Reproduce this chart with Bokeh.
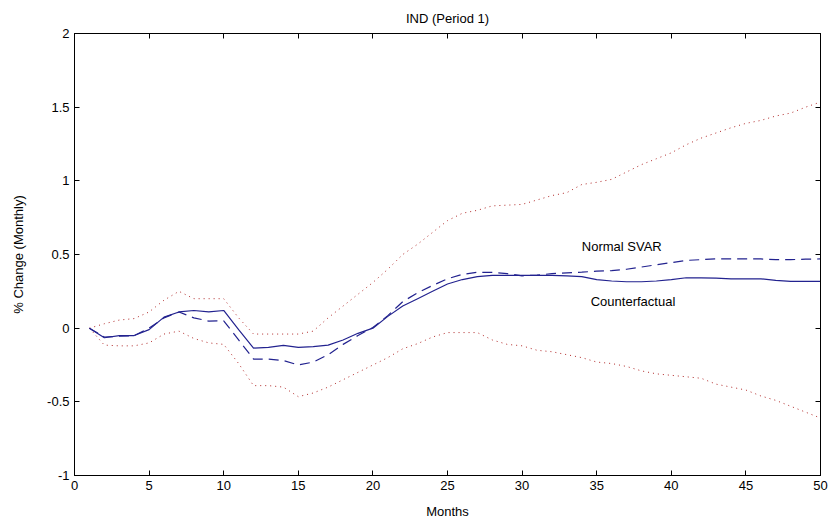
from bokeh.plotting import figure
from bokeh.models import ColumnDataSource, LinearAxis, FixedTicker, Label, Range1d
from bokeh.embed import file_html
from bokeh.resources import INLINE

months = list(range(1, 51))

counterfactual = [0, -0.065, -0.05, -0.05, -0.01, 0.075, 0.11, 0.12, 0.11, 0.12,
                  -0.01, -0.135, -0.13, -0.117, -0.13, -0.125, -0.115, -0.08, -0.035, 0.0,
                  0.08, 0.15, 0.2, 0.25, 0.3, 0.33, 0.35, 0.358, 0.358, 0.358,
                  0.358, 0.358, 0.355, 0.35, 0.33, 0.32, 0.315, 0.315, 0.32, 0.33,
                  0.342, 0.342, 0.34, 0.335, 0.335, 0.335, 0.325, 0.318, 0.317, 0.317]

normal_svar = [0, -0.06, -0.055, -0.05, 0.0, 0.07, 0.11, 0.07, 0.048, 0.05,
               -0.08, -0.21, -0.21, -0.22, -0.25, -0.23, -0.18, -0.11, -0.05, 0.005,
               0.085, 0.18, 0.24, 0.29, 0.335, 0.365, 0.38, 0.378, 0.37, 0.355,
               0.36, 0.37, 0.375, 0.38, 0.387, 0.39, 0.40, 0.415, 0.43, 0.445,
               0.46, 0.465, 0.47, 0.47, 0.47, 0.47, 0.465, 0.465, 0.468, 0.47]

upper_band = [0, 0.03, 0.055, 0.065, 0.11, 0.19, 0.25, 0.2, 0.2, 0.2,
              0.07, -0.04, -0.04, -0.04, -0.04, -0.02, 0.07, 0.15, 0.23, 0.31,
              0.4, 0.5, 0.57, 0.65, 0.73, 0.78, 0.80, 0.83, 0.835, 0.84,
              0.87, 0.9, 0.92, 0.975, 0.99, 1.01, 1.06, 1.11, 1.15, 1.19,
              1.245, 1.29, 1.325, 1.36, 1.39, 1.41, 1.44, 1.46, 1.50, 1.535]

lower_band = [0, -0.115, -0.12, -0.12, -0.1, -0.04, -0.02, -0.07, -0.1, -0.11,
              -0.24, -0.39, -0.39, -0.40, -0.465, -0.44, -0.4, -0.35, -0.3, -0.25,
              -0.2, -0.14, -0.105, -0.06, -0.03, -0.03, -0.03, -0.08, -0.11, -0.12,
              -0.15, -0.16, -0.18, -0.2, -0.23, -0.24, -0.26, -0.29, -0.31, -0.32,
              -0.33, -0.34, -0.38, -0.40, -0.42, -0.46, -0.49, -0.53, -0.57, -0.61]

x_ticks = [0, 5, 10, 15, 20, 25, 30, 35, 40, 45, 50]
y_ticks = [-1, -0.5, 0, 0.5, 1, 1.5, 2]
y_tick_labels = ["-1", "-0.5", "0", "0.5", "1", "1.5", "2"]

src = ColumnDataSource(dict(m=months, cf=counterfactual, sv=normal_svar,
                            up=upper_band, lo=lower_band))

FONT = "Liberation Sans"
BLUE = "#22228f"
RED = "#b02828"

p = figure(width=829, height=525, output_backend="svg", toolbar_location=None,
           x_range=Range1d(0, 50), y_range=Range1d(-1, 2),
           min_border_left=74, min_border_right=9, min_border_top=33, min_border_bottom=50,
           x_axis_location=None, y_axis_location=None)
p.title.text = "IND (Period 1)"
p.title.align = "center"
p.title.text_font = FONT
p.title.text_font_size = "13px"
p.title.text_font_style = "normal"
p.title.text_color = "black"
p.title.offset = 0
p.title.standoff = 16
p.xgrid.visible = False
p.ygrid.visible = False
p.outline_line_color = "black"
p.background_fill_color = "white"
p.border_fill_color = "white"

def make_axis(ticks, show_labels, label=None, overrides=None, standoff=2):
    ax = LinearAxis(ticker=FixedTicker(ticks=ticks))
    ax.major_tick_in = 5
    ax.major_tick_out = 0
    ax.minor_tick_in = 0
    ax.minor_tick_out = 0
    ax.axis_line_color = "black"
    ax.major_tick_line_color = "black"
    ax.major_label_text_font = FONT
    ax.major_label_text_font_size = "13px"
    ax.major_label_text_color = "black"
    if overrides:
        ax.major_label_overrides = overrides
    if not show_labels:
        ax.major_label_overrides = {t: "" for t in ticks}
        ax.major_label_standoff = 0
    if label:
        ax.axis_label = label
        ax.axis_label_text_font = FONT
        ax.axis_label_text_font_size = "13px"
        ax.axis_label_text_font_style = "normal"
        ax.axis_label_text_color = "black"
        ax.axis_label_standoff = standoff
    return ax

yover = {t: s for t, s in zip(y_ticks, y_tick_labels)}
p.add_layout(make_axis(x_ticks, True, "Months", standoff=11), "below")
p.add_layout(make_axis(y_ticks, True, "% Change (Monthly)", yover, standoff=18), "left")
p.add_layout(make_axis(x_ticks, False), "above")
p.add_layout(make_axis(y_ticks, False), "right")

p.line("m", "up", source=src, line_color=RED, line_width=1, line_dash="1 4")
p.line("m", "lo", source=src, line_color=RED, line_width=1, line_dash="1 4")
p.line("m", "sv", source=src, line_color=BLUE, line_width=1.2, line_dash="10 6")
p.line("m", "cf", source=src, line_color=BLUE, line_width=1.2)

p.add_layout(Label(x=34.0, y=0.555, text="Normal SVAR", text_font=FONT,
                   text_font_size="13px", text_baseline="middle", text_color="black"))
p.add_layout(Label(x=34.6, y=0.18, text="Counterfactual", text_font=FONT,
                   text_font_size="13px", text_baseline="middle", text_color="black"))

open("out.html", "w").write(file_html(p, INLINE))
